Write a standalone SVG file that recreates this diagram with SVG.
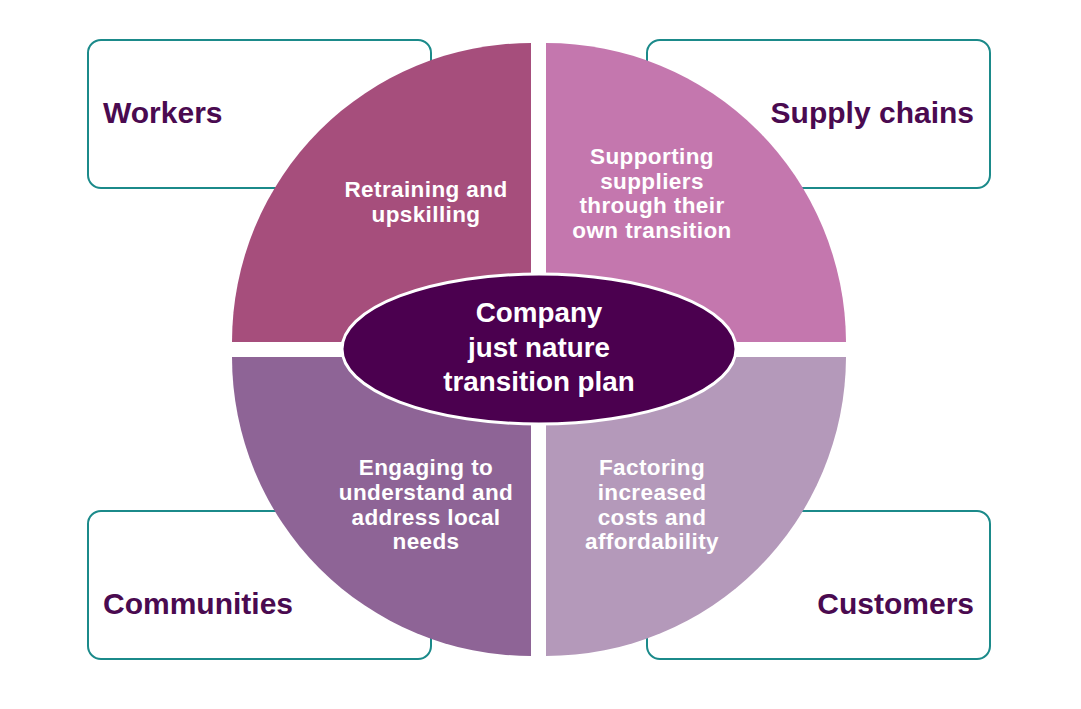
<svg xmlns="http://www.w3.org/2000/svg" width="1081" height="709" viewBox="0 0 1081 709">
<style>
.box{fill:#fff;stroke:#1b8a8a;stroke-width:2}
.lbl{font-family:"Liberation Sans",Arial,sans-serif;font-weight:bold;font-size:30px;fill:#4a0a50}
.q{font-family:"Liberation Sans",Arial,sans-serif;font-weight:bold;font-size:22.5px;letter-spacing:0.4px;fill:#fff;text-anchor:middle}
.c{font-family:"Liberation Sans",Arial,sans-serif;font-weight:bold;font-size:27.8px;fill:#fff;text-anchor:middle}
</style>
<rect width="1081" height="709" fill="#fff"/>
<g id="workers"><rect class="box" x="88" y="40" width="343" height="148" rx="13"/><text class="lbl" x="103" y="123">Workers</text></g>
<g id="supply"><rect class="box" x="647" y="40" width="343" height="148" rx="13"/><text class="lbl" x="974" y="123" text-anchor="end">Supply chains</text></g>
<g id="communities"><rect class="box" x="88" y="511" width="343" height="148" rx="13"/><text class="lbl" x="103" y="614">Communities</text></g>
<g id="customers"><rect class="box" x="647" y="511" width="343" height="148" rx="13"/><text class="lbl" x="974" y="614" text-anchor="end">Customers</text></g>
<g id="q-tl"><path d="M531,342 L232,342 A299,299 0 0 1 531,43 Z" fill="#a64e7c"/><text class="q" x="426" y="197">Retraining and</text><text class="q" x="426" y="222">upskilling</text></g>
<g id="q-tr"><path d="M546,342 L546,43 A300,300 0 0 1 846,342 Z" fill="#c477ae"/><text class="q" x="652" y="164">Supporting</text><text class="q" x="652" y="189">suppliers</text><text class="q" x="652" y="213">through their</text><text class="q" x="652" y="238">own transition</text></g>
<g id="q-bl"><path d="M531,357 L531,656 A299,299 0 0 1 232,357 Z" fill="#8e6496"/><text class="q" x="426" y="475">Engaging to</text><text class="q" x="426" y="500">understand and</text><text class="q" x="426" y="525">address local</text><text class="q" x="426" y="549">needs</text></g>
<g id="q-br"><path d="M546,357 L846,357 A300,300 0 0 1 546,656 Z" fill="#b499ba"/><text class="q" x="652" y="475">Factoring</text><text class="q" x="652" y="500">increased</text><text class="q" x="652" y="525">costs and</text><text class="q" x="652" y="549">affordability</text></g>
<g id="center"><ellipse cx="539" cy="349" rx="197" ry="75" fill="#4b004f" stroke="#fff" stroke-width="3"/><text class="c" x="539" y="322">Company</text><text class="c" x="539" y="357">just nature</text><text class="c" x="539" y="391">transition plan</text></g>
<g id="connectors"/>
</svg>
